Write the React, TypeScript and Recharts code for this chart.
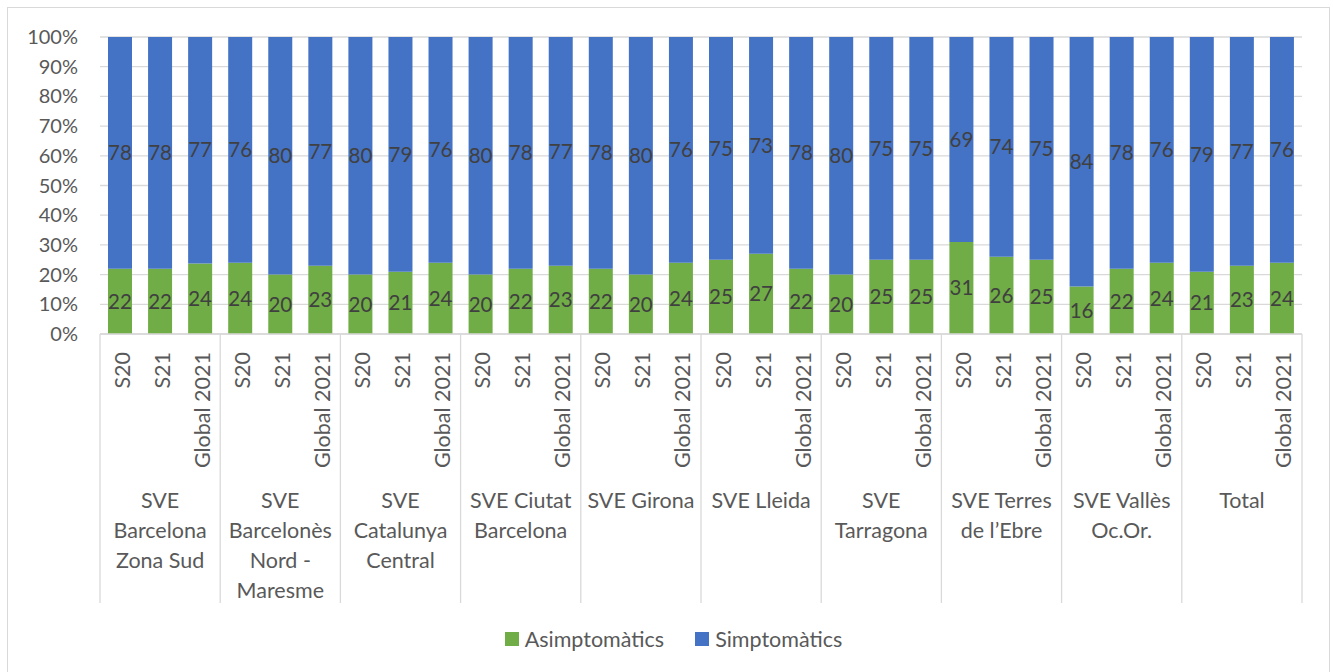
import React from 'react';
import { BarChart, Bar, XAxis, YAxis, CartesianGrid, LabelList, Legend } from 'recharts';

const groups = [
  ['SVE', 'Barcelona', 'Zona Sud'],
  ['SVE', 'Barcelonès', 'Nord -', 'Maresme'],
  ['SVE', 'Catalunya', 'Central'],
  ['SVE Ciutat', 'Barcelona'],
  ['SVE Girona'],
  ['SVE Lleida'],
  ['SVE', 'Tarragona'],
  ['SVE Terres', 'de l’Ebre'],
  ['SVE Vallès', 'Oc.Or.'],
  ['Total'],
];
const periods = ['S20', 'S21', 'Global 2021'];
const asimptomatics = [22, 22, 24, 24, 20, 23, 20, 21, 24, 20, 22, 23, 22, 20, 24, 25, 27, 22, 20, 25, 25, 31, 26, 25, 16, 22, 24, 21, 23, 24];
const simptomatics = [78, 78, 77, 76, 80, 77, 80, 79, 76, 80, 78, 77, 78, 80, 76, 75, 73, 78, 80, 75, 75, 69, 74, 75, 84, 78, 76, 79, 77, 76];
const yTicks = [0, 0.1, 0.2, 0.3, 0.4, 0.5, 0.6, 0.7, 0.8, 0.9, 1];

const data = asimptomatics.map((a, i) => ({
  key: i,
  period: periods[i % 3],
  group: Math.floor(i / 3),
  asim: a,
  sim: simptomatics[i],
}));

const W = 1334;
const H = 672;
const M = { top: 37, right: 32, left: 0, bottom: 0 };
const YW = 100;
const FONT = 'Lato, "Liberation Sans", sans-serif';
const FS = 21.5;
const TXT = '#595959';
const GREEN = '#70ad47';
const BLUE = '#4472c4';
const GRID = '#d9d9d9';

const BW = (W - M.left - M.right - YW) / data.length;

const XTick = (props: any) => {
  const { x, y, payload } = props;
  const i = payload.index;
  const d = data[i];
  const els: any[] = [];
  els.push(
    <text
      key="t"
      transform={`translate(${x + 2},${y + 18}) rotate(-90)`}
      textAnchor="end"
      dy="0.35em"
      fill={TXT}
      fontSize={FS}
      fontFamily={FONT}
    >
      {d.period}
    </text>
  );
  if (i % 3 === 0) {
    els.push(<line key="s" x1={x - BW / 2} x2={x - BW / 2} y1={y} y2={y + 269} stroke={GRID} strokeWidth={1.3} />);
  }
  if (i === data.length - 1) {
    els.push(<line key="e" x1={x + BW / 2} x2={x + BW / 2} y1={y} y2={y + 269} stroke={GRID} strokeWidth={1.3} />);
  }
  if (i % 3 === 1) {
    groups[d.group].forEach((ln, k) => {
      els.push(
        <text key={'g' + k} x={x} y={y + 174 + k * 30} textAnchor="middle" fill={TXT} fontSize={FS} fontFamily={FONT}>
          {ln}
        </text>
      );
    });
  }
  return <g>{els}</g>;
};

const YTick = (props: any) => {
  const { x, y, payload } = props;
  return (
    <text x={x} y={y} dy="0.35em" textAnchor="end" fill={TXT} fontSize={20} fontFamily={FONT}>
      {Math.round(payload.value * 100) + '%'}
    </text>
  );
};

const LegendContent = () => (
  <div style={{ display: 'flex', justifyContent: 'center', alignItems: 'center', fontFamily: FONT, fontSize: FS, color: TXT }}>
    {[
      { c: GREEN, t: 'Asimptomàtics' },
      { c: BLUE, t: 'Simptomàtics' },
    ].map((it, k) => (
      <div key={k} style={{ display: 'flex', alignItems: 'center', marginLeft: k ? 31 : 0 }}>
        <span style={{ display: 'inline-block', width: 14, height: 14, background: it.c, marginRight: 6 }} />
        <span>{it.t}</span>
      </div>
    ))}
  </div>
);

export default function App() {
  return (
    <div style={{ position: 'absolute', left: 0, top: 0, width: W, height: H, background: '#fff' }}>
      <div
        style={{
          position: 'absolute',
          left: 7,
          top: 7,
          width: 1323,
          height: 665,
          boxSizing: 'border-box',
          border: `1px solid ${GRID}`,
          borderBottom: 'none',
        }}
      />
      <div style={{ position: 'absolute', left: 0, top: 0 }}>
        <BarChart width={W} height={H} data={data} margin={M} stackOffset="expand" barSize={24}>
          <CartesianGrid vertical={false} stroke={GRID} strokeWidth={1.3} />
          <XAxis
            dataKey="key"
            interval={0}
            height={H - 334 - M.bottom}
            tick={<XTick />}
            tickLine={false}
            tickSize={0}
            tickMargin={0}
            axisLine={{ stroke: GRID, strokeWidth: 1.3 }}
          />
          <YAxis
            width={YW}
            domain={[0, 1]}
            ticks={yTicks}
            tick={<YTick />}
            tickLine={false}
            axisLine={false}
            tickSize={0}
            tickMargin={22}
          />
          <Legend
            verticalAlign="middle"
            align="center"
            content={<LegendContent />}
            wrapperStyle={{ top: 626, left: 0, width: 1347, height: 28 }}
          />
          <Bar dataKey="asim" stackId="a" fill={GREEN} isAnimationActive={false}>
            <LabelList dataKey="asim" position="center" fill="#404040" fontSize={20.5} fontFamily={FONT} />
          </Bar>
          <Bar dataKey="sim" stackId="a" fill={BLUE} isAnimationActive={false}>
            <LabelList dataKey="sim" position="center" fill="#404040" fontSize={20.5} fontFamily={FONT} />
          </Bar>
        </BarChart>
      </div>
    </div>
  );
}
